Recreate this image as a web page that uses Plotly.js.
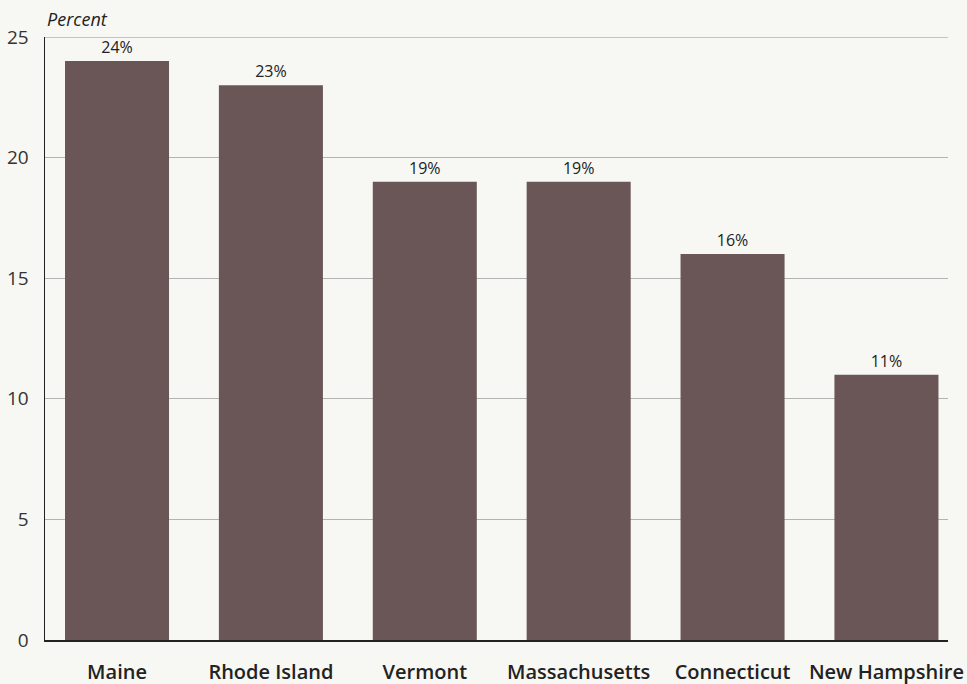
<!DOCTYPE html>
<html>
<head>
<meta charset="utf-8">
<script src="https://cdn.plot.ly/plotly-3.0.1.min.js"></script>
<style>html,body{margin:0;padding:0;background:#f7f7f3;}</style>
</head>
<body>
<div id="chart" style="width:967px;height:684px;"></div>
<script>
const categories = ["Maine", "Rhode Island", "Vermont", "Massachusetts", "Connecticut", "New Hampshire"];
const values = [24, 23, 19, 19, 16, 11];
const labels = values.map(v => v + "%");
const yTicks = [0, 5, 10, 15, 20, 25];

const FONT = "'Open Sans', sans-serif";

const trace = {
  type: "bar",
  x: categories,
  y: values,
  text: labels,
  textposition: "outside",
  cliponaxis: false,
  textfont: {family: FONT, size: 16, color: "#222"},
  marker: {color: "#6b5657"},
  hoverinfo: "skip"
};

const yMax = yTicks[yTicks.length - 1];

const layout = {
  width: 967, height: 684,
  paper_bgcolor: "#f7f7f3",
  plot_bgcolor: "#f7f7f3",
  margin: {l: 45, r: 19, t: 37, b: 44},
  bargap: 0.324,
  showlegend: false,
  font: {family: FONT, color: "#222"},
  xaxis: {
    type: "category",
    range: [-0.468, 5.40],
    showgrid: false,
    showline: true, linecolor: "#222", linewidth: 1.5,
    ticks: "",
    ticklabelstandoff: 13,
    tickfont: {family: FONT, size: 20, color: "#222", weight: 600}
  },
  yaxis: {
    range: [0, yMax],
    tickvals: yTicks,
    ticktext: yTicks.map(String),
    showgrid: true, gridcolor: "#b3b3b3", gridwidth: 1,
    zeroline: false,
    showline: true, linecolor: "#222", linewidth: 1.5,
    ticks: "",
    ticklabelstandoff: 11,
    tickfont: {family: FONT, size: 19, color: "#333"}
  },
  shapes: [{
    type: "line", xref: "paper", yref: "y",
    x0: 0, x1: 1, y0: yMax, y1: yMax,
    line: {color: "#b3b3b3", width: 1.5},
    layer: "below"
  }],
  annotations: [{
    text: "<i>Percent</i>",
    xref: "paper", yref: "paper",
    x: 0, y: 1, xanchor: "left", yanchor: "bottom", yshift: 4,
    showarrow: false,
    font: {family: FONT, size: 18, color: "#222"}
  }]
};

Plotly.newPlot("chart", [trace], layout, {displayModeBar: false, staticPlot: true});
</script>
</body>
</html>
